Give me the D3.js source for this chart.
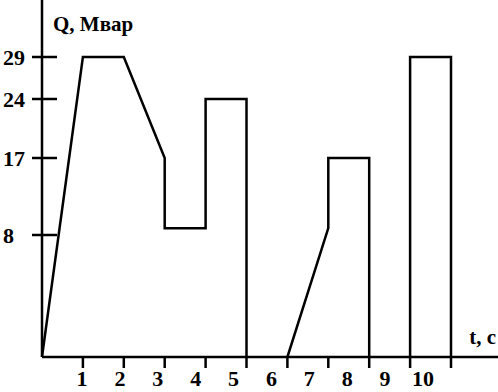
<!DOCTYPE html>
<html>
<head>
<meta charset="utf-8">
<script src="https://cdn.jsdelivr.net/npm/d3@7"></script>
<style>
	body { margin: 0; background: #fff; }
	svg text { font-family: "Liberation Serif", "Times New Roman", serif; font-weight: bold; fill: #000; }
</style>
</head>
<body>
<svg id="chart" width="498" height="392"></svg>
<script>
'use strict';

//data
var yTicks = [8, 17, 24, 29],
	xTicks = [1, 2, 3, 4, 5, 6, 7, 8, 9, 10],
	xLabels = ['1', '2', '3', '4', '5', '6', '7', '8', '9', '10'],
	seg1T = [0, 1, 2, 3, 3, 4, 4, 5, 5],
	seg1Q = [0, 29, 29, 17, 8.8, 8.8, 24, 24, 0],
	seg2T = [6, 7, 7, 8, 8],
	seg2Q = [0, 8.8, 17, 17, 0],
	seg3T = [9, 9, 10, 10],
	seg3Q = [0, 29, 29, 0];

var svg = d3.select('#chart');

//scales (the y axis of the drawing is not uniform, so it is piecewise)
var x = d3.scaleLinear().domain([0, 10]).range([42, 451]),
	xLab = d3.scaleLinear().domain([1, 10]).range([82, 423]),
	y = d3.scaleLinear().domain([0, 8, 17, 24, 29]).range([357, 235, 158, 99, 57]);

//axes
svg.append('line')
	.attr('x1', 42).attr('x2', 42).attr('y1', 0).attr('y2', y(0))
	.attr('stroke', '#000').attr('stroke-width', 2.5);
svg.append('line')
	.attr('x1', 42).attr('x2', 498).attr('y1', y(0)).attr('y2', y(0))
	.attr('stroke', '#000').attr('stroke-width', 2.5);

svg.selectAll('.ytick').data(yTicks).enter().append('line')
	.attr('x1', 32).attr('x2', 57)
	.attr('y1', function(d) { return y(d); })
	.attr('y2', function(d) { return y(d); })
	.attr('stroke', '#000').attr('stroke-width', 2.5);

svg.selectAll('.ylab').data(yTicks).enter().append('text')
	.attr('x', 3)
	.attr('y', function(d) { return y(d); })
	.attr('dy', '0.35em')
	.attr('font-size', 22)
	.text(function(d) { return d; });

svg.selectAll('.xtick').data(xTicks).enter().append('line')
	.attr('x1', function(d) { return x(d); })
	.attr('x2', function(d) { return x(d); })
	.attr('y1', y(0)).attr('y2', y(0) + 11)
	.attr('stroke', '#000').attr('stroke-width', 2.5);

svg.selectAll('.xlab').data(xTicks).enter().append('text')
	.attr('x', function(d) { return xLab(d); })
	.attr('y', 386)
	.attr('text-anchor', 'middle')
	.attr('font-size', 22)
	.text(function(d, i) { return xLabels[i]; });

svg.append('text').attr('x', 53).attr('y', 31).attr('font-size', 21).text('Q, Мвар');
svg.append('text').attr('x', 496).attr('y', 344).attr('text-anchor', 'end').attr('font-size', 21).text('t, c');

//data line
var line = d3.line()
	.x(function(d) { return x(d[0]); })
	.y(function(d) { return y(d[1]); });

[[seg1T, seg1Q], [seg2T, seg2Q], [seg3T, seg3Q]].forEach(function(s) {
	svg.append('path')
		.datum(d3.zip(s[0], s[1]))
		.attr('d', line)
		.attr('fill', 'none')
		.attr('stroke', '#000')
		.attr('stroke-width', 2.5)
		.attr('stroke-linejoin', 'miter');
});
</script>
</body>
</html>
